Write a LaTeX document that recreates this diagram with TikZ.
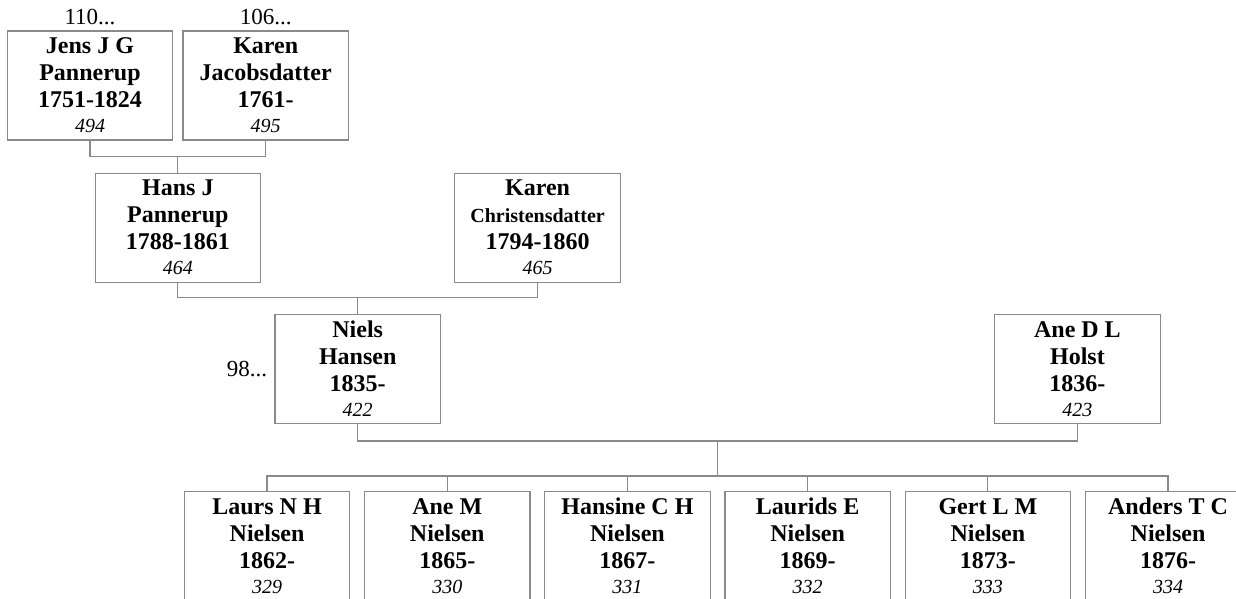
\documentclass[tikz,border=0pt]{standalone}
\usepackage{fontspec}
\setmainfont{Liberation Serif}
\usepackage{xcolor}
\usepackage{tikz}
\usetikzlibrary{positioning,calc}
\definecolor{lgray}{RGB}{138,138,138}
\newcommand{\famno}[1]{\\[-2pt]{\mdseries\itshape\fontsize{20}{22}\selectfont #1}}

\begin{document}
\begin{tikzpicture}[
  node distance=13.5pt,
  person/.style={draw=lgray, line width=1.2pt, align=center, inner sep=0pt,
                 minimum width=165.5pt, minimum height=109pt,
                 font=\fontsize{24}{27}\selectfont\bfseries},
  more/.style={inner sep=0pt, font=\fontsize{23}{25}\selectfont},
  link/.style={draw=lgray, line width=1.2pt}
]
\useasboundingbox (0,0) rectangle (1236pt,-598pt);
\clip (0,0) rectangle (1236pt,-598pt);

% grandparents
\node[person] (jens) at (90pt,-85.5pt) {Jens J G\\Pannerup\\1751-1824\famno{494}};
\node[person, right=9pt of jens] (karenj) {Karen\\Jacobsdatter\\1761-\famno{495}};
\node[more, above=5pt of jens] (jensmore) {110...};
\node[more, above=5pt of karenj] (karenjmore) {106...};
\coordinate (gen1) at ($(jens.south)!0.5!(karenj.south)+(0,-16pt)$);

% parents
\node[person, below=16pt of gen1] (hans) {Hans J\\Pannerup\\1788-1861\famno{464}};
\node[person, right=193pt of hans] (karenc)
  {Karen\\{\fontsize{20}{27}\selectfont Christensdatter}\\1794-1860\famno{465}};
\coordinate (gen2) at ($(hans.south)!0.5!(karenc.south)+(0,-15pt)$);

% couple
\node[person, below=16pt of gen2] (niels) {Niels\\Hansen\\1835-\famno{422}};
\node[person, right=553pt of niels] (anedl) {Ane D L\\Holst\\1836-\famno{423}};
\node[more, left=7pt of niels] (nielsmore) {98...};
\coordinate (gen3) at ($(niels.south)!0.5!(anedl.south)+(0,-17pt)$);
\coordinate[below=35pt of gen3] (kids);

% children
\node[person, below left=15pt and 6.75pt of kids] (hansine)
  {Hansine C H\\Nielsen\\1867-\famno{331}};
\node[person, below right=15pt and 6.75pt of kids] (laurids)
  {Laurids E\\Nielsen\\1869-\famno{332}};
\node[person, left=of hansine] (anem) {Ane M\\Nielsen\\1865-\famno{330}};
\node[person, left=of anem] (laurs) {Laurs N H\\Nielsen\\1862-\famno{329}};
\node[person, right=of laurids] (gert) {Gert L M\\Nielsen\\1873-\famno{333}};
\node[person, right=of gert] (anders) {Anders T C\\Nielsen\\1876-\famno{334}};

\draw[link] (jens.south) |- (gen1) -| (karenj.south);
\draw[link] (gen1) -- (hans.north);
\draw[link] (hans.south) |- (gen2) -| (karenc.south);
\draw[link] (gen2) -- (niels.north);
\draw[link] (niels.south) |- (gen3) -| (anedl.south);
\draw[link] (gen3) -- (kids);
\draw[link] (kids) -| (laurs.north);
\draw[link] (kids) -| (anem.north);
\draw[link] (kids) -| (hansine.north);
\draw[link] (kids) -| (laurids.north);
\draw[link] (kids) -| (gert.north);
\draw[link] (kids) -| (anders.north);
\end{tikzpicture}
\end{document}
